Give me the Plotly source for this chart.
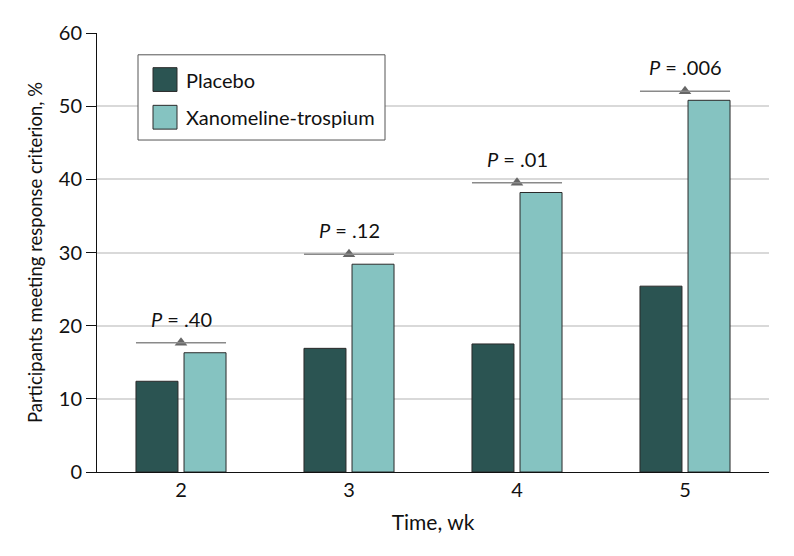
import plotly.graph_objects as go

weeks = [2, 3, 4, 5]
week_labels = ["2", "3", "4", "5"]
placebo = [12.4, 16.9, 17.5, 25.4]
xanomeline = [16.3, 28.4, 38.2, 50.8]
bracket_y = [17.65, 29.75, 39.55, 52.05]
p_labels = ["<i>P</i> = .40", "<i>P</i> = .12", "<i>P</i> = .01", "<i>P</i> = .006"]
y_ticks = [0, 10, 20, 30, 40, 50, 60]

FONT = "Lato"
C_PLA = "#2b5452"
C_XAN = "#85c3c1"

BAR_W = 0.25
GAP = 0.036
HALF = BAR_W + GAP / 2

# page has an 8px body margin; compensate so plot sits where the reference is
OFF = 8
W, H = 794 - OFF, 556 - OFF
ML, MR, MT, MB = 97 - OFF, 25, 29 - OFF, 84
PW = W - ML - MR
PH = H - MT - MB


def px(x):
    return (x - OFF - ML) / PW


def py(y):
    return (H - MB - (y - OFF)) / PH


def f(size):
    return dict(family=FONT, size=size, color="#111")


fig = go.Figure()
fig.add_trace(go.Bar(x=weeks, y=placebo, name="Placebo", width=BAR_W, offset=-HALF,
                     marker=dict(color=C_PLA, line=dict(color="#2a2a2a", width=1)),
                     showlegend=False))
fig.add_trace(go.Bar(x=weeks, y=xanomeline, name="Xanomeline-trospium", width=BAR_W,
                     offset=GAP / 2,
                     marker=dict(color=C_XAN, line=dict(color="#2a2a2a", width=1)),
                     showlegend=False))

# significance brackets
for w, by, lab in zip(weeks, bracket_y, p_labels):
    fig.add_shape(type="line", x0=w - HALF, x1=w + HALF, y0=by, y1=by,
                  line=dict(color="#8a8a8a", width=1.5), layer="above")
    fig.add_annotation(x=w, y=by, text=lab, showarrow=False, yshift=24, font=f(20))
fig.add_trace(go.Scatter(x=weeks, y=bracket_y, mode="markers",
                         marker=dict(symbol="triangle-up", size=11, color="#666666",
                                     line=dict(width=0)),
                         showlegend=False, hoverinfo="skip"))

# legend (drawn manually to match the reference swatch size)
fig.add_shape(type="rect", xref="paper", yref="paper",
              x0=px(138), x1=px(385), y0=py(137), y1=py(51),
              line=dict(color="#555", width=1), fillcolor="white", layer="above")
for i, (name, col) in enumerate([("Placebo", C_PLA), ("Xanomeline-trospium", C_XAN)]):
    cy = 76 + i * 38
    fig.add_shape(type="rect", xref="paper", yref="paper",
                  x0=px(153), x1=px(177), y0=py(cy + 12), y1=py(cy - 12),
                  line=dict(color="#2a2a2a", width=1), fillcolor=col, layer="above")
    fig.add_annotation(xref="paper", yref="paper", x=px(184), y=py(cy), text=name,
                       showarrow=False, xanchor="left", yanchor="middle", font=f(20))

fig.update_layout(
    width=W, height=H,
    margin=dict(l=ML, r=MR, t=MT, b=MB),
    plot_bgcolor="white", paper_bgcolor="white",
    font=f(20),
    xaxis=dict(range=[1.5, 5.5], tickvals=weeks, ticktext=week_labels,
               showgrid=False, zeroline=False, showline=True, linecolor="#111",
               linewidth=1, ticks="", title=dict(text="Time, wk", standoff=15, font=f(21)),
               tickfont=f(20)),
    yaxis=dict(range=[0, 60], tickvals=y_ticks, showgrid=True, gridcolor="#d9d9d9",
               gridwidth=1.5, zeroline=False, showline=True, linecolor="#111",
               linewidth=1, ticks="outside", ticklen=10, tickcolor="#111",
               title=dict(text="Participants meeting response criterion, %", standoff=11,
                          font=f(18.5)),
               tickfont=f(20)),
)
fig.write_html("out.html")
